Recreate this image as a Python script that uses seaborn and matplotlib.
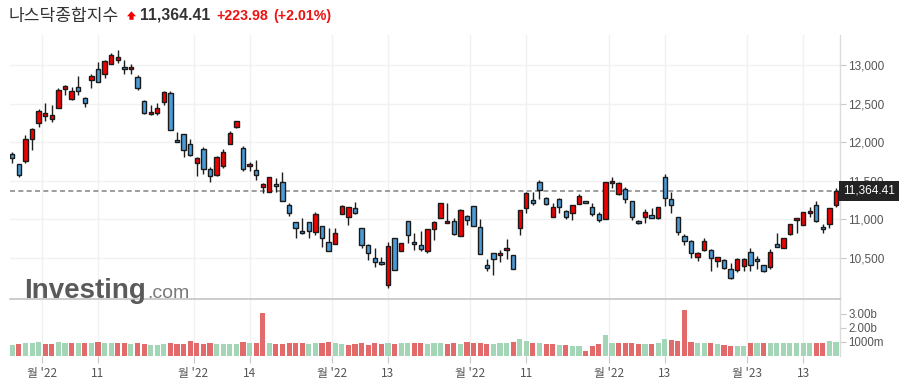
import numpy as np
import pandas as pd
import matplotlib
matplotlib.use("Agg")
import matplotlib.pyplot as plt
import matplotlib.transforms as mtransforms
from matplotlib.patches import Polygon
import seaborn as sns

# ---------------- data ----------------
title = "나스닥종합지수"
last_price = 11364.41
change = 223.98
change_pct = 2.01

open_ = [11844, 11710, 11758, 12043, 12251, 12333, 12294, 12437, 12684, 12554,
         12714, 12571, 12801, 12944, 12879, 13009, 13069, 12970, 12944, 12840,
         12532, 12359, 12381, 12515, 12632, 12022, 12100, 11970, 11727, 11905,
         11645, 11567, 11684, 11970, 12190, 11918, 11684, 11632, 11416, 11346,
         11450, 11476, 11177, 10961, 10844, 10961, 10827, 10905, 10701, 10671,
         11060, 11030, 11139, 10879, 10658, 10489, 10437, 10138, 10749, 10580,
         10974, 10701, 10658, 10580, 10874, 11009, 10944, 10974, 10775, 11035,
         11165, 10892, 10398, 10554, 10528, 10593, 10528, 10879, 11138, 11242,
         11476, 11268, 11022, 11255, 11104, 11074, 11190, 11229, 11151, 11065,
         10996, 11463, 11320, 11385, 11229, 10974, 11022, 11048, 11017, 11545,
         11255, 11022, 10775, 10710, 10502, 10602, 10597, 10450, 10463, 10346,
         10338, 10390, 10567, 10480, 10398, 10372, 10671, 10619, 10801, 10983,
         10918, 11074, 11177, 10892, 10931, 11182]
high = [11866, 11710, 12091, 12186, 12424, 12502, 12480, 12697, 12740, 12719,
        12857, 12589, 12879, 13035, 13065, 13151, 13195, 13065, 13009, 12870,
        12541, 12480, 12502, 12662, 12662, 12126, 12100, 12035, 11810, 11939,
        11680, 11823, 11905, 12143, 12268, 11952, 11745, 11762, 11468, 11545,
        11528, 11615, 11204, 10961, 11017, 10961, 11095, 10905, 10887, 10879,
        11182, 11151, 11225, 10879, 10671, 10619, 10502, 10697, 10749, 10684,
        10974, 10814, 10840, 10866, 10974, 11203, 11203, 11009, 11130, 11052,
        11165, 10996, 10485, 10554, 10597, 10745, 10528, 11113, 11351, 11351,
        11506, 11281, 11203, 11268, 11117, 11177, 11320, 11229, 11212, 11091,
        11476, 11550, 11480, 11411, 11238, 10985, 11126, 11138, 11151, 11580,
        11355, 11022, 10805, 10727, 10571, 10753, 10615, 10511, 10476, 10424,
        10498, 10494, 10619, 10524, 10398, 10606, 10814, 10749, 10931, 11009,
        11087, 11151, 11234, 10935, 11138, 11407]
low = [11723, 11541, 11723, 11892, 12190, 12273, 12260, 12437, 12610, 12541,
       12610, 12450, 12706, 12775, 12827, 13009, 13022, 12879, 12879, 12675,
       12359, 12350, 12350, 12480, 12151, 11995, 11805, 11815, 11558, 11580,
       11476, 11562, 11667, 11970, 12178, 11623, 11623, 11502, 11338, 11346,
       11355, 11229, 11043, 10749, 10810, 10749, 10792, 10632, 10580, 10671,
       11060, 10922, 11065, 10628, 10468, 10372, 10398, 10108, 10333, 10580,
       10684, 10597, 10589, 10554, 10727, 11009, 10944, 10792, 10775, 10922,
       10905, 10541, 10329, 10268, 10442, 10485, 10355, 10788, 11082, 11182,
       11255, 11177, 11022, 11074, 11000, 10987, 11190, 11203, 11039, 10957,
       10996, 11398, 11310, 11212, 10987, 10935, 10944, 11009, 10996, 11169,
       11074, 10797, 10662, 10498, 10459, 10580, 10325, 10372, 10355, 10216,
       10307, 10329, 10325, 10346, 10312, 10355, 10632, 10619, 10792, 10814,
       10918, 11030, 10961, 10814, 10887, 11151]
close = [11788, 11567, 12035, 12164, 12398, 12372, 12346, 12675, 12727, 12658,
         12658, 12502, 12853, 12784, 13048, 13126, 13099, 12944, 12974, 12706,
         12381, 12385, 12437, 12645, 12151, 12000, 11896, 11827, 11788, 11649,
         11558, 11801, 11866, 12113, 12268, 11649, 11719, 11571, 11450, 11545,
         11429, 11229, 11074, 10879, 10818, 10840, 11065, 10749, 10580, 10814,
         11173, 11151, 11082, 10658, 10554, 10442, 10411, 10654, 10333, 10684,
         10788, 10671, 10615, 10866, 10957, 11203, 10970, 10801, 11113, 10991,
         10905, 10541, 10359, 10485, 10563, 10619, 10355, 11113, 11333, 11203,
         11372, 11190, 11151, 11151, 11030, 11177, 11294, 11203, 11061, 10991,
         11476, 11489, 11463, 11260, 11022, 10944, 11087, 11009, 11151, 11268,
         11177, 10831, 10710, 10554, 10554, 10710, 10489, 10502, 10359, 10229,
         10476, 10476, 10398, 10455, 10320, 10567, 10641, 10749, 10931, 11009,
         11087, 11104, 10970, 10866, 11138, 11364.41]
volume_b = [0.80, 0.85, 0.90, 0.90, 1.00, 0.87, 0.87, 1.00, 0.95, 0.95,
            0.95, 0.95, 0.95, 1.00, 0.90, 0.90, 0.90, 0.90, 0.87, 0.95,
            0.87, 0.80, 0.80, 0.85, 0.92, 0.87, 0.87, 1.05, 0.92, 0.88,
            0.90, 0.88, 0.88, 0.88, 0.88, 1.00, 0.95, 0.95, 3.05, 0.92,
            0.88, 0.88, 0.92, 0.95, 0.92, 0.88, 0.90, 0.92, 1.00, 0.92,
            0.88, 0.80, 0.85, 0.95, 0.82, 0.92, 0.85, 0.92, 0.88, 0.90,
            0.92, 0.90, 0.90, 0.88, 0.90, 0.95, 0.88, 0.92, 0.88, 1.00,
            0.95, 0.95, 0.88, 0.88, 0.92, 0.92, 1.00, 1.25, 1.10, 0.92,
            0.95, 0.88, 0.85, 0.80, 0.80, 0.75, 0.75, 0.35, 0.70, 0.85,
            1.50, 0.90, 0.92, 0.90, 0.90, 0.88, 0.85, 0.85, 0.90, 1.20,
            1.15, 1.10, 3.30, 1.00, 0.90, 0.90, 0.92, 0.85, 0.80, 0.70,
            0.72, 0.75, 0.90, 0.92, 0.90, 0.95, 0.95, 0.90, 0.95, 0.92,
            0.95, 0.92, 0.90, 0.90, 1.10, 1.00]

x_tick_pos = [4.5, 13, 27.5, 36, 48.5, 57, 69.5, 78, 90.5, 99, 111.5, 120]
x_tick_labels = ["월 '22", "11", "월 '22", "14", "월 '22", "13",
                 "월 '22", "11", "월 '22", "13", "월 '23", "13"]
price_ticks = [10500, 11000, 11500, 12000, 12500, 13000]
vol_ticks = [1.0, 2.0, 3.0]
vol_tick_labels = ["1000m", "2.00b", "3.00b"]

# ---------------- styling ----------------
sns.set_theme(style="white")
plt.rcParams['font.family'] = ['Noto Sans CJK KR', 'DejaVu Sans']

RED = "#f20000"
BLUE = "#4b9bd6"
VOL_GREEN = "#a3d6b6"
VOL_RED = "#e26a6a"
GRID = "#f1f1f1"
NUMFONT = ['Liberation Sans', 'DejaVu Sans']

W, H = 906, 389
fig = plt.figure(figsize=(W / 100, H / 100), dpi=100)
fig.patch.set_facecolor("white")


def box(x0, y0, x1, y1):
    return [x0 / W, 1 - y1 / H, (x1 - x0) / W, (y1 - y0) / H]


axp = fig.add_axes(box(10, 35, 840, 299))
axv = fig.add_axes(box(10, 299, 840, 356))

n = len(close)
idx = np.arange(n)
o = np.array(open_, dtype=float)
c = np.array(close, dtype=float)
hi = np.array(high, dtype=float)
lo = np.array(low, dtype=float)

# ---------------- price candles ----------------
axp.vlines(idx, lo, hi, color="#1e1e1e", linewidth=1.0, zorder=3)
body_low = np.minimum(o, c)
body_h = np.maximum(np.abs(c - o), 14)
colors = np.where(c >= o, RED, BLUE)
axp.bar(idx, body_h, bottom=body_low, width=0.66, color=colors,
        edgecolor="#1a1a1a", linewidth=1.0, zorder=4)

axp.axhline(last_price, color="#8c8c8c", linewidth=1.2, linestyle=(0, (3, 2)), zorder=2)

xlim = (-0.35, 125.6)
axp.set_xlim(*xlim)
axp.set_ylim(9961, 13390)
axp.set_xticks(x_tick_pos)
axp.set_xticklabels([])
axp.set_yticks(price_ticks)
axp.set_yticklabels([f"{v:,.0f}" for v in price_ticks], fontfamily=NUMFONT)
axp.yaxis.tick_right()
axp.tick_params(axis="y", which="both", right=True, length=4, width=0.8, color="#c8c8c8",
                labelsize=8.5, labelcolor="#555555", pad=2)
axp.tick_params(axis="x", bottom=False, length=0)
axp.grid(True, color=GRID, linewidth=1.0)
axp.set_axisbelow(True)
for s in ["top", "left", "bottom"]:
    axp.spines[s].set_visible(False)
axp.spines["right"].set_color("#dcdcdc")
axp.spines["right"].set_linewidth(1.0)

# current price tag (covers most of the 11,500 label, as in the reference)
trans = mtransforms.blended_transform_factory(axp.transAxes, axp.transData)
axp.text(1.0035, last_price, f"{last_price:,.2f}", transform=trans, ha="left", va="center",
         color="white", fontsize=8.5, fontfamily=NUMFONT, clip_on=False, zorder=20,
         bbox=dict(boxstyle="square,pad=0.32", fc="#232323", ec="none"))

# ---------------- volume ----------------
prev = np.concatenate([[c[0] - 1], c[:-1]])
direction = np.where(c >= prev, "up", "down")
df_vol = pd.DataFrame({"i": idx, "vol": volume_b, "dir": direction})
sns.barplot(data=df_vol, x="i", y="vol", hue="dir",
            palette={"up": VOL_GREEN, "down": VOL_RED}, native_scale=True,
            dodge=False, errorbar=None, width=0.78, saturation=1, legend=False,
            linewidth=0, ax=axv)
axv.set_xlabel("")
axv.set_ylabel("")
axv.set_xlim(*xlim)
axv.set_ylim(0, 57 / 14)
axv.set_xticks(x_tick_pos)
axv.set_xticklabels(x_tick_labels)
axv.set_yticks(vol_ticks)
axv.set_yticklabels(vol_tick_labels, fontfamily=NUMFONT)
axv.yaxis.tick_right()
axv.tick_params(axis="y", right=True, length=4, width=0.8, color="#c8c8c8",
                labelsize=8.3, labelcolor="#555555", pad=2)
axv.tick_params(axis="x", bottom=True, length=5, width=0.8, color="#c8c8c8",
                labelsize=8.5, labelcolor="#555555", pad=3)
axv.grid(True, axis="x", color=GRID, linewidth=1.0)
axv.set_axisbelow(True)
for s in ["left", "bottom"]:
    axv.spines[s].set_visible(False)
axv.spines["top"].set_color("#c4c4c4")
axv.spines["top"].set_linewidth(1.2)
axv.spines["right"].set_color("#dcdcdc")
axv.spines["right"].set_linewidth(1.0)

# ---------------- header ----------------
fig.text(9 / W, 1 - 20.5 / H, title, fontsize=12.3, color="#333333",
         ha="left", va="baseline")
arrow = [(127, 16.3), (131.5, 11.3), (136, 16.3), (133.6, 16.3), (133.6, 19.8),
         (129.4, 19.8), (129.4, 16.3)]
fig.patches.append(Polygon([(x / W, 1 - y / H) for x, y in arrow], closed=True,
                           transform=fig.transFigure, fc=RED, ec="none"))
fig.text(140 / W, 1 - 20 / H, f"{last_price:,.2f}", fontsize=11.3, fontweight="bold",
         color="#333333", ha="left", va="baseline", fontfamily=NUMFONT)
fig.text(216 / W, 1 - 20 / H, f"+{change:,.2f}", fontsize=10.2, fontweight="bold",
         color="#ee1111", ha="left", va="baseline", fontfamily=NUMFONT)
fig.text(273 / W, 1 - 20 / H, f"(+{change_pct:.2f}%)", fontsize=10.2, fontweight="bold",
         color="#ee1111", ha="left", va="baseline", fontfamily=NUMFONT)

# ---------------- watermark ----------------
fig.text(24 / W, 1 - 298 / H, "Investing", fontsize=20, fontweight="bold",
         color="#5a5a5a", ha="left", va="baseline", fontfamily=NUMFONT, zorder=30)
fig.text(147 / W, 1 - 298 / H, ".com", fontsize=14, color="#7a7a7a",
         ha="left", va="baseline", fontfamily=NUMFONT, zorder=30)

fig.savefig("out.png", dpi=100, facecolor="white")
